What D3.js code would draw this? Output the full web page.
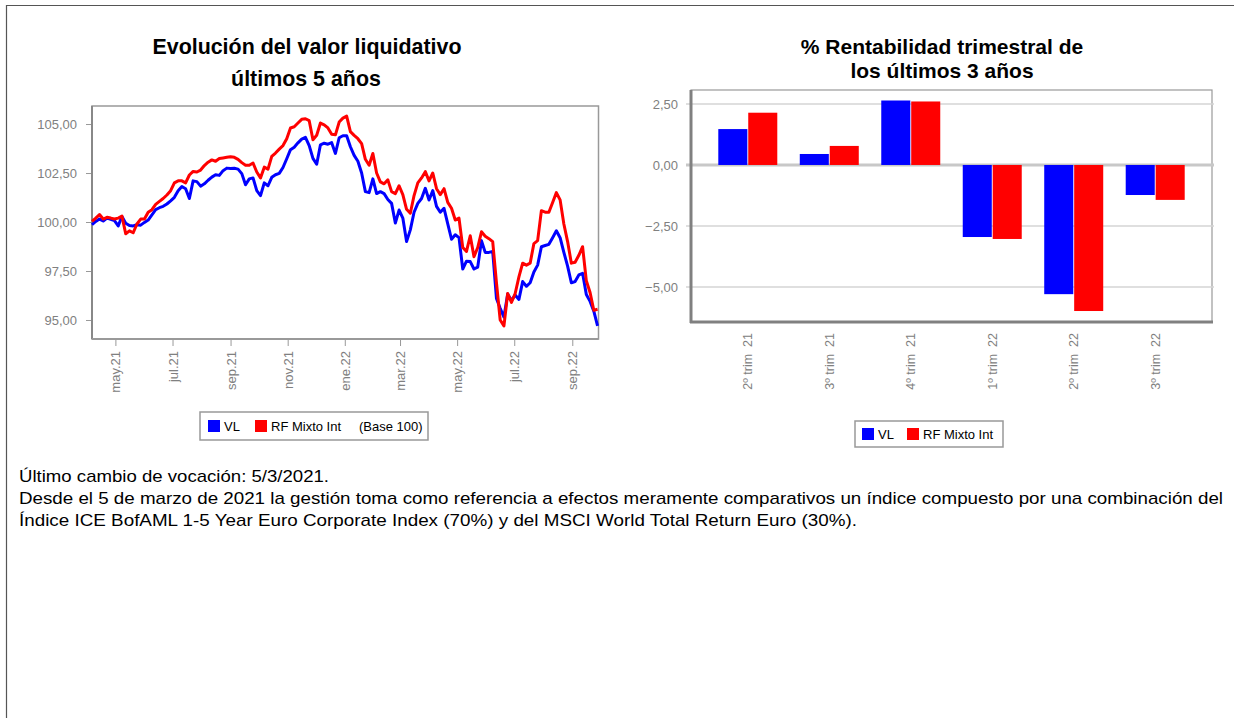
<!DOCTYPE html>
<html lang="es">
<head>
<meta charset="UTF-8">
<title>Evolución del valor liquidativo y rentabilidad trimestral</title>
<script src="https://d3js.org/d3.v7.min.js"></script>
<style>
    body { margin: 0; background: #ffffff; }
    svg { display: block; font-family: Arial, "Liberation Sans", sans-serif; }
    .titulo { font-weight: bold; fill: #000; }
    .eje text { fill: #808080; font-size: 13px; }
    .eje line { stroke: #999; }
    .leyenda { font-size: 13px; fill: #000; }
    .nota { font-size: 17px; fill: #000; }
</style>
</head>
<body>
<svg width="1234" height="718"></svg>
<script>
// ---- datos: evolución del valor liquidativo (base 100) ----
const fechas = [
    "2021-04-06","2021-04-10","2021-04-14","2021-04-18","2021-04-22","2021-04-26","2021-04-30","2021-05-04","2021-05-08","2021-05-12",
    "2021-05-16","2021-05-20","2021-05-24","2021-05-28","2021-06-01","2021-06-05","2021-06-09","2021-06-13","2021-06-17","2021-06-21",
    "2021-06-25","2021-06-29","2021-07-03","2021-07-07","2021-07-11","2021-07-15","2021-07-19","2021-07-23","2021-07-27","2021-07-31",
    "2021-08-04","2021-08-08","2021-08-12","2021-08-16","2021-08-20","2021-08-24","2021-08-28","2021-09-01","2021-09-05","2021-09-09",
    "2021-09-13","2021-09-17","2021-09-21","2021-09-25","2021-09-29","2021-10-03","2021-10-07","2021-10-11","2021-10-15","2021-10-19",
    "2021-10-23","2021-10-27","2021-10-31","2021-11-04","2021-11-08","2021-11-12","2021-11-16","2021-11-20","2021-11-24","2021-11-28",
    "2021-12-02","2021-12-06","2021-12-10","2021-12-14","2021-12-18","2021-12-22","2021-12-26","2021-12-30","2022-01-03","2022-01-07",
    "2022-01-11","2022-01-15","2022-01-19","2022-01-23","2022-01-27","2022-01-31","2022-02-04","2022-02-08","2022-02-12","2022-02-16",
    "2022-02-20","2022-02-24","2022-02-28","2022-03-04","2022-03-08","2022-03-12","2022-03-16","2022-03-20","2022-03-24","2022-03-28",
    "2022-04-01","2022-04-05","2022-04-09","2022-04-13","2022-04-17","2022-04-21","2022-04-25","2022-04-29","2022-05-03","2022-05-07",
    "2022-05-11","2022-05-15","2022-05-19","2022-05-23","2022-05-27","2022-05-31","2022-06-04","2022-06-08","2022-06-12","2022-06-16",
    "2022-06-20","2022-06-24","2022-06-28","2022-07-02","2022-07-06","2022-07-10","2022-07-14","2022-07-18","2022-07-22","2022-07-26",
    "2022-07-30","2022-08-03","2022-08-07","2022-08-11","2022-08-15","2022-08-19","2022-08-23","2022-08-27","2022-08-31","2022-09-04",
    "2022-09-08","2022-09-12","2022-09-16","2022-09-20","2022-09-24","2022-09-28"
];

const serieVL = [
    99.86, 100.03, 100.15, 100.05, 100.2, 100.14, 100.07, 99.8, 100.28, 99.94,
    99.82, 99.8, 99.86, 99.84, 99.98, 100.1, 100.36, 100.63, 100.73, 100.8,
    100.92, 101.08, 101.26, 101.6, 101.81, 101.7, 101.2, 102.1, 102.06, 101.83,
    101.95, 102.13, 102.29, 102.41, 102.38, 102.62, 102.75, 102.73, 102.74, 102.7,
    102.47, 101.9, 102.2, 102.25, 101.6, 101.35, 102.0, 101.85, 102.28, 102.41,
    102.48, 102.78, 103.23, 103.69, 103.82, 104.04, 104.23, 104.32, 103.9, 103.25,
    102.95, 103.94, 104.02, 103.97, 104.05, 103.5, 104.3, 104.4, 104.4, 103.84,
    103.4, 103.1, 102.5, 101.55, 101.5, 102.2, 101.45, 101.55, 101.45, 101.15,
    100.95, 99.95, 100.61, 100.2, 99.0, 99.6, 100.5, 100.95, 101.2, 101.72,
    101.12, 101.6, 100.8, 100.5, 100.7, 99.9, 99.12, 99.35, 99.2, 97.6,
    98.0, 97.98, 97.6, 97.7, 99.05, 98.45, 98.45, 98.5, 96.1, 95.6,
    95.15, 96.33, 96.0, 96.27, 96.05, 96.96, 96.72, 96.9, 97.45, 97.8,
    98.74, 98.8, 98.86, 99.2, 99.55, 99.2, 98.45, 97.75, 96.9, 96.96,
    97.3, 97.38, 96.3, 95.95, 95.45, 94.7
];

const serieRF = [
    100.03, 100.2, 100.38, 100.15, 100.24, 100.2, 100.15, 100.2, 100.3, 99.4,
    99.55, 99.45, 99.9, 100.15, 100.15, 100.5, 100.63, 100.9, 101.05, 101.2,
    101.38, 101.6, 102.0, 102.1, 102.1, 102.0, 102.4, 102.58, 102.55, 102.65,
    102.88, 103.05, 103.17, 103.1, 103.24, 103.27, 103.3, 103.33, 103.3, 103.2,
    103.03, 102.9, 102.9, 103.01, 102.55, 102.25, 102.8, 102.7, 103.35, 103.52,
    103.72, 103.9, 104.25, 104.8, 104.86, 105.05, 105.24, 105.27, 105.17, 104.2,
    104.43, 105.05, 104.96, 104.8, 104.48, 104.45, 105.1, 105.3, 105.4, 104.61,
    104.42, 104.25, 104.0, 103.2, 102.9, 103.5, 102.5, 102.05, 101.95, 102.15,
    101.55, 101.45, 101.85, 101.4, 100.65, 100.45, 101.35, 102.0, 102.25, 102.57,
    102.1, 102.5, 101.7, 101.4, 101.7, 101.0, 100.7, 100.1, 100.2, 98.7,
    98.5, 99.3, 98.23, 98.7, 99.5, 99.27, 99.15, 99.0, 96.9, 95.0,
    94.7, 96.35, 95.9, 96.35, 97.2, 97.9, 97.8, 97.9, 98.9, 99.05,
    100.58, 100.5, 100.5, 101.0, 101.5, 101.13, 99.9, 99.0, 97.9, 97.95,
    98.3, 98.74, 97.0, 96.4, 95.5, 95.55
];

const ticksMeses = ["2021-05-01","2021-07-01","2021-09-01","2021-11-01","2022-01-01","2022-03-01","2022-05-01","2022-07-01","2022-09-01"];
const etiquetasMeses = ["may.21","jul.21","sep.21","nov.21","ene.22","mar.22","may.22","jul.22","sep.22"];
const ticksValor = [95, 97.5, 100, 102.5, 105];

// ---- datos: rentabilidad trimestral ----
const trimestres = ["2º trim  21","3º trim  21","4º trim  21","1º trim  22","2º trim  22","3º trim  22"];
const rentVL = [1.47, 0.45, 2.64, -2.95, -5.29, -1.23];
const rentRF = [2.14, 0.78, 2.60, -3.03, -5.98, -1.43];
const ticksRent = [2.5, 0, -2.5, -5];

const nombresSeries = ["VL", "RF Mixto Int"];
const colores = ["#0000ff", "#ff0000"];

const svg = d3.select("svg");
const parse = d3.timeParse("%Y-%m-%d");
const es = d3.formatLocale({ decimal: ",", thousands: ".", grouping: [3], currency: ["", " €"] });
const fmt = es.format(".2f");

// marco de la página
svg.append("line").attr("x1", 6).attr("x2", 1234).attr("y1", 5.5).attr("y2", 5.5)
    .attr("stroke", "#555").attr("stroke-width", 1.2);
svg.append("line").attr("x1", 6.5).attr("x2", 6.5).attr("y1", 5).attr("y2", 718)
    .attr("stroke", "#555").attr("stroke-width", 1.2);

// ================= gráfico de líneas =================
const L = { left: 92, right: 598.5, top: 106, bottom: 339 };

const x = d3.scaleTime()
    .domain([parse("2021-04-06"), parse("2022-09-29")])
    .range([L.left, L.right]);
const y = d3.scaleLinear()
    .domain([94.03, 105.92])
    .range([L.bottom, L.top]);

svg.append("text").attr("class", "titulo").attr("x", 307).attr("y", 54)
    .attr("text-anchor", "middle").style("font-size", "21.4px").text("Evolución del valor liquidativo");
svg.append("text").attr("class", "titulo").attr("x", 306).attr("y", 86)
    .attr("text-anchor", "middle").style("font-size", "21.4px").text("últimos 5 años");

svg.append("rect")
    .attr("x", L.left).attr("y", L.top)
    .attr("width", L.right - L.left).attr("height", L.bottom - L.top)
    .attr("fill", "#fff").attr("stroke", "#999").attr("stroke-width", 1.5);

const ejeY = svg.append("g").attr("class", "eje")
    .attr("transform", `translate(${L.left},0)`)
    .call(d3.axisLeft(y).tickValues(ticksValor).tickFormat(fmt).tickSize(6).tickPadding(9));
ejeY.select(".domain").remove();

const ejeX = svg.append("g").attr("class", "eje")
    .attr("transform", `translate(0,${L.bottom})`)
    .call(d3.axisBottom(x).tickValues(ticksMeses.map(parse))
        .tickFormat((d, i) => etiquetasMeses[i]).tickSize(7));
ejeX.select(".domain").remove();
ejeX.selectAll("text")
    .attr("transform", "rotate(-90)")
    .attr("x", -12).attr("y", 0).attr("dy", "0.35em")
    .style("text-anchor", "end");

svg.append("line").attr("x1", L.left).attr("x2", L.left).attr("y1", L.top).attr("y2", L.bottom)
    .attr("stroke", "#888").attr("stroke-width", 2);
svg.append("line").attr("x1", L.left).attr("x2", L.right).attr("y1", L.bottom).attr("y2", L.bottom)
    .attr("stroke", "#999").attr("stroke-width", 2);

const linea = d3.line()
    .x(d => x(d[0]))
    .y(d => y(d[1]));

[serieVL, serieRF].forEach((serie, s) => {
    svg.append("path")
        .datum(fechas.map((f, i) => [parse(f), serie[i]]))
        .attr("fill", "none")
        .attr("stroke", colores[s])
        .attr("stroke-width", 3)
        .attr("stroke-linejoin", "round")
        .attr("d", linea);
});

// leyenda izquierda
const leyIzq = svg.append("g");
leyIzq.append("rect").attr("x", 200).attr("y", 412).attr("width", 228).attr("height", 28)
    .attr("fill", "#fff").attr("stroke", "#999").attr("stroke-width", 1.5);
const posIzq = [208, 255];
nombresSeries.forEach((n, i) => {
    leyIzq.append("rect").attr("x", posIzq[i]).attr("y", 420).attr("width", 12).attr("height", 12)
        .attr("fill", colores[i]);
    leyIzq.append("text").attr("class", "leyenda").attr("x", posIzq[i] + 16).attr("y", 431).text(n);
});
leyIzq.append("text").attr("class", "leyenda").attr("x", 359).attr("y", 431).text("(Base 100)");

// ================= gráfico de barras =================
const B = { left: 691, right: 1212, top: 90, bottom: 322 };

const x0 = d3.scaleBand().domain(trimestres).range([B.left, B.right])
    .paddingInner(0.276).paddingOuter(0.335);
const x1 = d3.scaleBand().domain(nombresSeries).range([0, x0.bandwidth()]).paddingInner(0.03);
const yb = d3.scaleLinear().domain([-6.43, 3.07]).range([B.bottom, B.top]);

svg.append("text").attr("class", "titulo").attr("x", 942).attr("y", 54)
    .attr("text-anchor", "middle").style("font-size", "21px").text("% Rentabilidad trimestral de");
svg.append("text").attr("class", "titulo").attr("x", 942).attr("y", 78)
    .attr("text-anchor", "middle").style("font-size", "21px").text("los últimos 3 años");

svg.append("rect")
    .attr("x", B.left).attr("y", B.top)
    .attr("width", B.right - B.left).attr("height", B.bottom - B.top)
    .attr("fill", "#fff").attr("stroke", "#999").attr("stroke-width", 1.2);

// rejilla
svg.append("g").selectAll("line")
    .data(ticksRent)
    .join("line")
    .attr("x1", B.left - 5).attr("x2", B.right + 2)
    .attr("y1", d => yb(d)).attr("y2", d => yb(d))
    .attr("stroke", d => d === 0 ? "#c8c8c8" : "#d4d4d4")
    .attr("stroke-width", d => d === 0 ? 3 : 1.5);

const ejeYb = svg.append("g").attr("class", "eje")
    .attr("transform", `translate(${B.left},0)`)
    .call(d3.axisLeft(yb).tickValues(ticksRent).tickFormat(fmt).tickSize(0).tickPadding(13));
ejeYb.select(".domain").remove();

const grupos = svg.append("g").selectAll("g")
    .data(trimestres)
    .join("g")
    .attr("transform", d => `translate(${x0(d)},0)`);

grupos.selectAll("rect")
    .data((d, i) => [rentVL[i], rentRF[i]].map((v, s) => ({ serie: nombresSeries[s], v, s })))
    .join("rect")
    .attr("x", d => x1(d.serie))
    .attr("width", x1.bandwidth())
    .attr("y", d => yb(Math.max(0, d.v)))
    .attr("height", d => Math.abs(yb(d.v) - yb(0)))
    .attr("fill", d => colores[d.s]);

const ejeXb = svg.append("g").attr("class", "eje")
    .attr("transform", `translate(0,${B.bottom})`)
    .call(d3.axisBottom(x0).tickSize(0));
ejeXb.select(".domain").remove();
ejeXb.selectAll("text")
    .attr("transform", "rotate(-90)")
    .attr("x", -11).attr("y", 0).attr("dy", "0.35em")
    .style("text-anchor", "end")
    .style("white-space", "pre")
    .style("font-size", "12.5px");

svg.append("line").attr("x1", B.left).attr("x2", B.left).attr("y1", B.top).attr("y2", B.bottom + 1)
    .attr("stroke", "#808080").attr("stroke-width", 3);
svg.append("line").attr("x1", B.left - 1).attr("x2", B.right + 1).attr("y1", B.bottom).attr("y2", B.bottom)
    .attr("stroke", "#808080").attr("stroke-width", 3);

// leyenda derecha
const leyDer = svg.append("g");
leyDer.append("rect").attr("x", 855).attr("y", 421).attr("width", 148).attr("height", 26)
    .attr("fill", "#fff").attr("stroke", "#999").attr("stroke-width", 1.5);
const posDer = [862, 907];
nombresSeries.forEach((n, i) => {
    leyDer.append("rect").attr("x", posDer[i]).attr("y", 428).attr("width", 12).attr("height", 12)
        .attr("fill", colores[i]);
    leyDer.append("text").attr("class", "leyenda").attr("x", posDer[i] + 16).attr("y", 439).text(n);
});

// ================= nota =================
const notas = [
    { t: "Último cambio de vocación: 5/3/2021.", y: 482, w: 310 },
    { t: "Desde el 5 de marzo de 2021 la gestión toma como referencia a efectos meramente comparativos un índice compuesto por una combinación del", y: 504, w: 1204 },
    { t: "Índice ICE BofAML 1-5 Year Euro Corporate Index (70%) y del MSCI World Total Return Euro (30%).", y: 526, w: 838 }
];
svg.append("g").selectAll("text")
    .data(notas)
    .join("text")
    .attr("class", "nota")
    .attr("x", 19)
    .attr("y", d => d.y)
    .attr("textLength", d => d.w)
    .attr("lengthAdjust", "spacingAndGlyphs")
    .text(d => d.t);
</script>
</body>
</html>
